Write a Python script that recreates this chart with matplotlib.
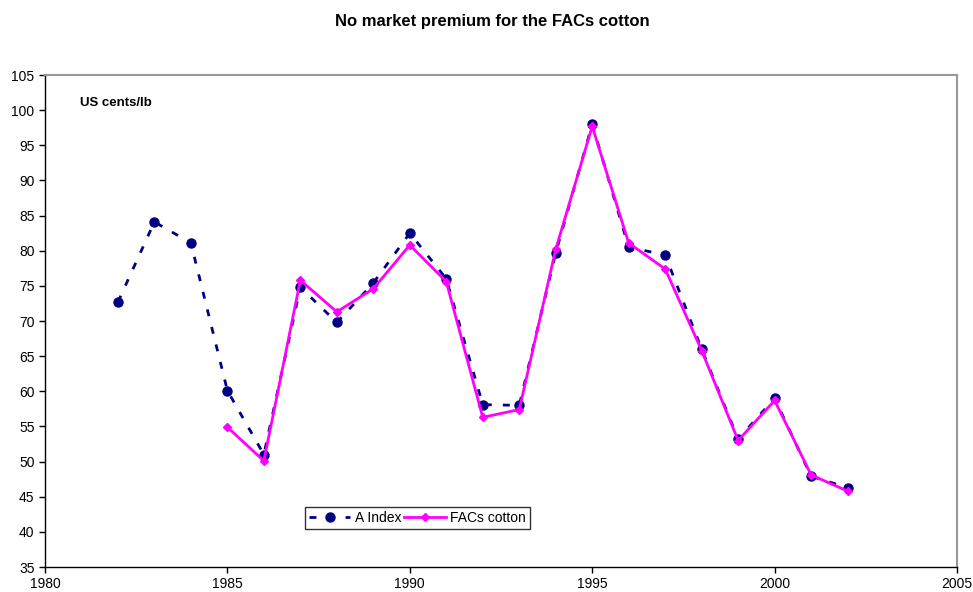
import matplotlib
matplotlib.use("Agg")
import matplotlib.pyplot as plt

plt.rcParams['font.family'] = ['Liberation Sans', 'DejaVu Sans']

years_a = list(range(1982, 2003))
a_index = [72.7, 84.1, 81.1, 60.1, 51.0, 74.8, 69.8, 75.4, 82.5, 76.0, 58.1,
           58.0, 79.7, 98.0, 80.5, 79.4, 66.0, 53.2, 59.0, 47.9, 46.3]

years_f = list(range(1985, 2003))
facs = [54.9, 50.1, 75.8, 71.3, 74.6, 80.8, 75.6, 56.3, 57.4, 80.2, 97.7,
        81.1, 77.4, 65.8, 53.0, 58.7, 48.1, 45.8]

fig = plt.figure(figsize=(9.73, 5.92), dpi=100)
ax = fig.add_axes([0.0462, 0.0422, 0.9374, 0.8311])

ax.plot(years_a, a_index, color='#000080', linestyle=(0, (2.5, 4)), lw=2,
        marker='o', ms=6.5, label='A Index')
ax.plot(years_f, facs, color='#FF00FF', lw=2, marker='D', ms=4.5,
        label='FACs cotton')

ax.set_xlim(1980, 2005)
ax.set_ylim(35, 105)
ax.set_xticks(range(1980, 2006, 5))
ax.set_yticks(range(35, 106, 5))
ax.tick_params(labelsize=10, length=4, width=1, colors='black')
ax.tick_params(axis='x', pad=3)
for s in ['top', 'right']:
    ax.spines[s].set_color('#999999')
    ax.spines[s].set_linewidth(1.5)
for s in ['left', 'bottom']:
    ax.spines[s].set_color('black')
    ax.spines[s].set_linewidth(1)

ax.text(0.038, 0.955, 'US cents/lb', transform=ax.transAxes, fontsize=9.5,
        fontweight='bold', va='top')
fig.text(0.506, 0.963, 'No market premium for the FACs cotton', ha='center',
         va='center', fontsize=12, fontweight='bold')

leg = ax.legend(loc='center', bbox_to_anchor=(0.408, 0.0996), ncol=2,
                fontsize=10, frameon=True, fancybox=False, handlelength=3.0,
                columnspacing=0.2, handletextpad=0.3, borderpad=0.3)
leg.get_frame().set_edgecolor('black')
leg.get_frame().set_linewidth(1)

fig.savefig('out.png', dpi=100)
